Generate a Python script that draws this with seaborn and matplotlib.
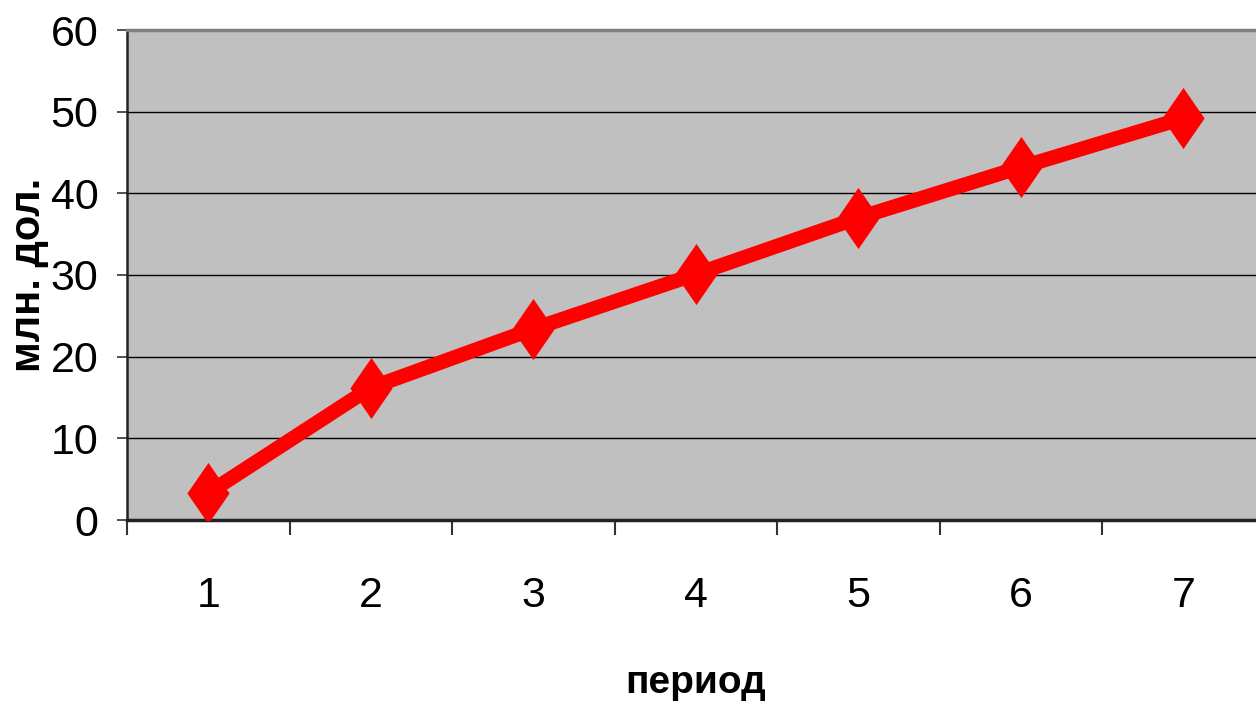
import matplotlib
matplotlib.use("Agg")
import matplotlib.pyplot as plt
import seaborn as sns
import pandas as pd
from matplotlib.ticker import FixedLocator, NullFormatter

# Series data
periods = [1, 2, 3, 4, 5, 6, 7]
values = [3.3, 16.2, 23.4, 30.1, 37.0, 43.2, 49.2]
y_ticks = [0, 10, 20, 30, 40, 50, 60]

x_label = "период"
y_label = "млн. дол."

df = pd.DataFrame({"period": periods, "value": values})

sns.set_theme(style="white")
plt.rcParams["font.family"] = ["Liberation Sans Narrow", "Liberation Sans", "DejaVu Sans"]

fig = plt.figure(figsize=(12.56, 7.05), dpi=100)
ax = fig.add_axes([127 / 1256, 185 / 705, 1137.5 / 1256, 490 / 705])
ax.set_facecolor("#C0C0C0")

# tall diamond marker
diamond = [(-0.69, 0), (0, 1), (0.69, 0), (0, -1), (-0.69, 0)]

sns.lineplot(data=df, x="period", y="value", ax=ax, color="#FF0000",
             linewidth=10.5, marker=diamond, markersize=44,
             markeredgewidth=0, markerfacecolor="#FF0000", zorder=3)

ax.set_xlim(0.5, 7.5)
ax.set_ylim(0, 60)

# horizontal gridlines
ax.set_yticks(y_ticks)
ax.yaxis.grid(True, color="black", linewidth=1.0)
ax.xaxis.grid(False)
ax.set_axisbelow(True)

# spines
ax.spines["right"].set_visible(False)
ax.spines["top"].set_color("#808080")
ax.spines["top"].set_linewidth(2.5)
ax.spines["left"].set_color("#222222")
ax.spines["left"].set_linewidth(1.8)
ax.spines["bottom"].set_color("#222222")
ax.spines["bottom"].set_linewidth(2.5)

# category ticks between periods, labels at the periods
ax.set_xticks(periods)
ax.set_xticklabels([str(p) for p in periods])
ax.xaxis.set_minor_locator(FixedLocator([p - 0.5 for p in periods] + [7.5]))
ax.xaxis.set_minor_formatter(NullFormatter())
ax.tick_params(axis="x", which="major", length=0, pad=40,
               labelsize=31, labelcolor="black")
ax.tick_params(axis="x", which="minor", bottom=True, length=11,
               width=1.5, color="#333333")
ax.tick_params(axis="y", which="major", left=True, length=7.5, width=1.2,
               color="#333333", pad=13, labelsize=31, labelcolor="black")

ax.set_xlabel(x_label, fontsize=28, fontweight="bold", color="black")
ax.xaxis.set_label_coords(0.5, -0.296)
ax.set_ylabel(y_label, fontsize=30, fontweight="bold", color="black")
ax.yaxis.set_label_coords(-0.069, 0.5)

fig.savefig("out.png", dpi=100)
